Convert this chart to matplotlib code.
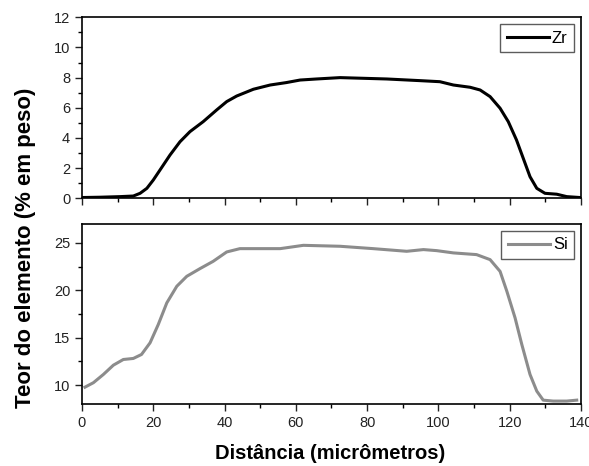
import matplotlib
matplotlib.use("Agg")
import matplotlib.pyplot as plt
from matplotlib.ticker import MultipleLocator

plt.rcParams['font.family'] = ['Liberation Sans', 'DejaVu Sans']

# Zr profile (wt %)
zr_x = [0, 5, 10.7, 14.4, 16.3, 18.2, 20.0, 21.9, 24.7, 27.5, 30.3, 34.0,
        37.8, 40.6, 43.4, 48.1, 52.8, 57.3, 61.2, 65.8, 72.4, 85.5, 94.8,
        100.4, 104.2, 108.9, 111.7, 114.5, 117.3, 119.6, 121.9, 123.8, 125.7,
        127.6, 129.9, 133.2, 136.0, 139.7]
zr_y = [0.05, 0.07, 0.11, 0.15, 0.33, 0.66, 1.21, 1.88, 2.87, 3.75, 4.42,
        5.08, 5.86, 6.41, 6.78, 7.23, 7.51, 7.67, 7.84, 7.91, 8.0, 7.91, 7.80,
        7.73, 7.51, 7.36, 7.18, 6.74, 5.97, 5.08, 3.87, 2.65, 1.43, 0.66,
        0.33, 0.27, 0.11, 0.05]

# Si profile (wt %)
si_x = [0.84, 3.2, 6.0, 8.8, 11.6, 14.4, 16.7, 19.1, 21.4, 23.8, 26.6, 29.4,
        33.1, 36.8, 40.6, 44.3, 49.0, 55.6, 62.1, 72.4, 81.7, 91.1, 95.8,
        99.5, 104.2, 110.7, 114.5, 117.3, 119.2, 121.5, 123.4, 125.7, 127.6,
        129.4, 132.2, 136.0, 138.8]
si_y = [9.78, 10.25, 11.12, 12.1, 12.7, 12.81, 13.23, 14.46, 16.39, 18.68,
        20.43, 21.48, 22.29, 23.06, 24.05, 24.4, 24.4, 24.4, 24.75, 24.65,
        24.4, 24.12, 24.3, 24.19, 23.95, 23.77, 23.24, 22.0, 19.9, 17.1,
        14.28, 11.12, 9.36, 8.41, 8.31, 8.31, 8.41]

fig = plt.figure(figsize=(5.89, 4.66), dpi=100)
ax1 = fig.add_axes([0.1392, 0.5745, 0.8472, 0.3884])
ax2 = fig.add_axes([0.1392, 0.1330, 0.8472, 0.3863])

ax1.plot(zr_x, zr_y, color='black', lw=2.2, label='Zr',
         solid_joinstyle='round')
ax2.plot(si_x, si_y, color='#8c8c8c', lw=2.2, label='Si',
         solid_joinstyle='round')

ax1.set_ylim(0, 12)
ax1.yaxis.set_major_locator(MultipleLocator(2))
ax1.yaxis.set_minor_locator(MultipleLocator(1))
ax2.set_ylim(8, 27)
ax2.yaxis.set_major_locator(MultipleLocator(5))
ax2.yaxis.set_minor_locator(MultipleLocator(2.5))

for ax in (ax1, ax2):
    ax.set_xlim(0, 140)
    ax.xaxis.set_major_locator(MultipleLocator(20))
    ax.xaxis.set_minor_locator(MultipleLocator(10))
    ax.tick_params(which='major', direction='out', length=5, width=1,
                   labelsize=10.5, colors='#222222')
    ax.tick_params(which='minor', direction='out', length=3, width=1)
    for s in ax.spines.values():
        s.set_linewidth(1.2)
    leg = ax.legend(loc='upper right', fontsize=12, frameon=True, fancybox=False,
                    handlelength=2.5, borderpad=0.4, handletextpad=0.2,
                    borderaxespad=0.4)
    leg.get_frame().set_edgecolor('#333333')
    leg.get_frame().set_linewidth(1)

ax1.tick_params(axis='x', labelbottom=False)

fig.text(0.56, 0.026, 'Distância (micrômetros)', ha='center', va='center',
         fontsize=14.5, fontweight='bold')
fig.text(0.043, 0.468, 'Teor do elemento (% em peso)', ha='center', va='center',
         rotation=90, fontsize=16, fontweight='bold')

fig.savefig('out.png', dpi=100)
